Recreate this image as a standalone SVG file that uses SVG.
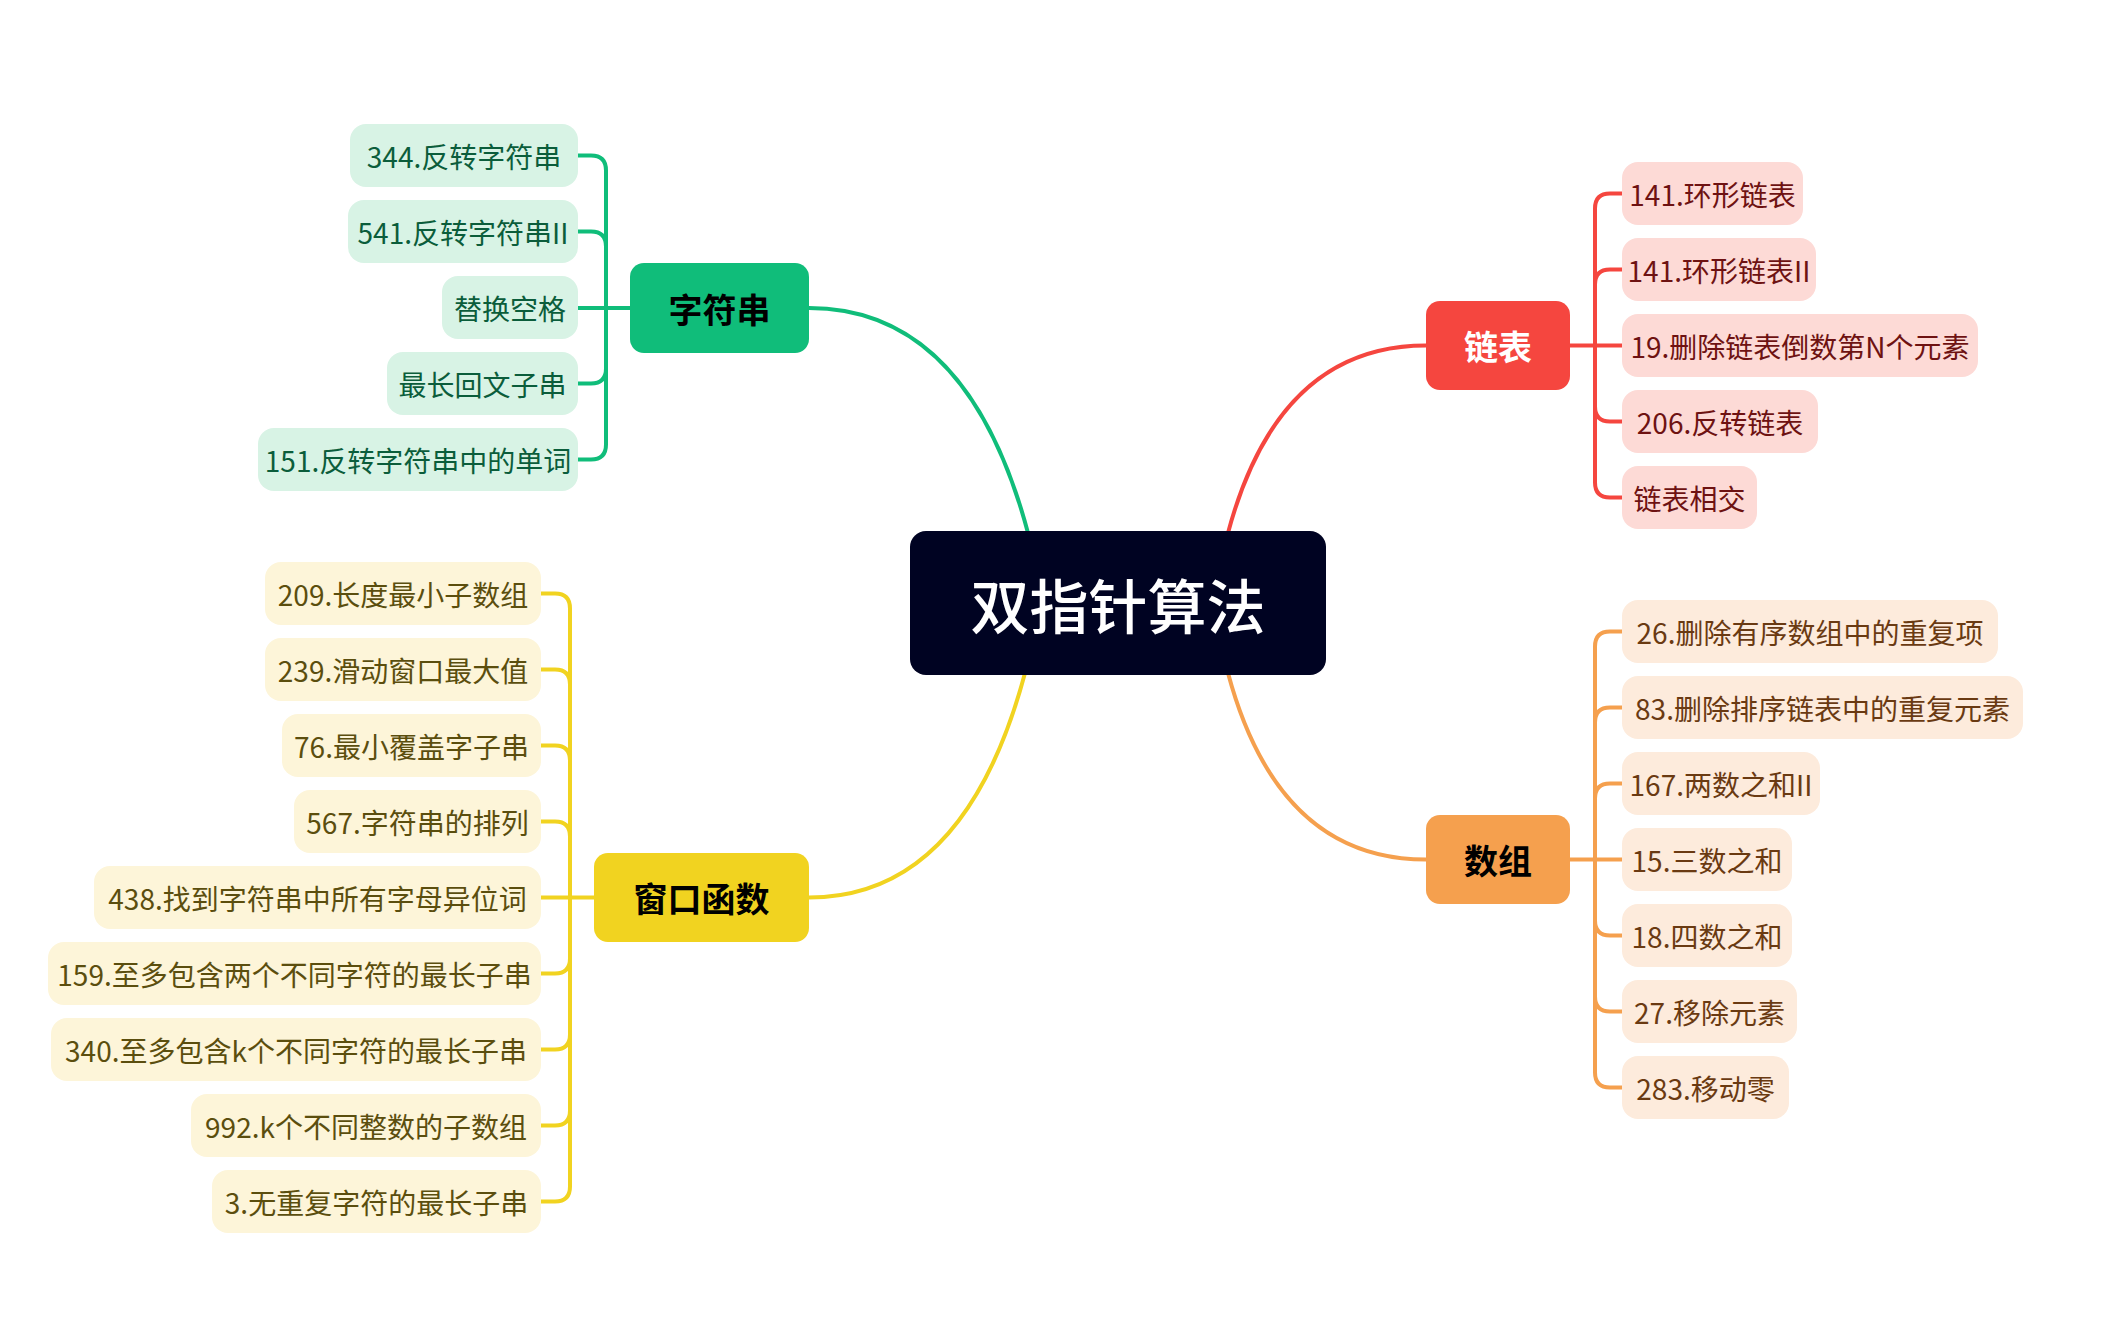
<svg xmlns="http://www.w3.org/2000/svg" width="2108" height="1318" viewBox="0 0 2108 1318">
<style>
text{font-family:"Noto Sans CJK SC","Noto Sans",sans-serif;dominant-baseline:central;text-anchor:middle}
.leaf{font-size:28px}
.main{font-size:34px;font-weight:bold}
.conn path{fill:none;stroke-width:4;stroke-linecap:round}
.g{stroke:#10bd7a}.r{stroke:#f5463f}.o{stroke:#f5a04e}.y{stroke:#f1d320}
.gb{fill:#d8f3e5}.rb{fill:#fddad6}.ob{fill:#fdebdc}.yb{fill:#fdf5d9}
.gt{fill:#0b5d3b}.rt{fill:#6e1212}.ot{fill:#6a3a12}.yt{fill:#5b4e0e}
</style>
<rect width="2108" height="1318" fill="#ffffff"/>
<g id="connectors" class="conn">
<path class="g" d="M809,308 Q968,308 1028,533"/>
<path class="r" d="M1228,533 Q1278,345.5 1426,345.5"/>
<path class="y" d="M1025,673 Q965,897.5 809,897.5"/>
<path class="o" d="M1228,673 Q1278,859.5 1426,859.5"/>
<path class="g" d="M578,155.5 H591 Q606,155.5 606,170.5 V308"/>
<path class="g" d="M578,231.5 H591 Q606,231.5 606,246.5 V308"/>
<path class="g" d="M578,308 H632"/>
<path class="g" d="M578,383.5 H591 Q606,383.5 606,368.5 V308"/>
<path class="g" d="M578,459.5 H591 Q606,459.5 606,444.5 V308"/>
<path class="y" d="M541,593.5 H555 Q570,593.5 570,608.5 V897.5"/>
<path class="y" d="M541,669.5 H555 Q570,669.5 570,684.5 V897.5"/>
<path class="y" d="M541,745.5 H555 Q570,745.5 570,760.5 V897.5"/>
<path class="y" d="M541,821.5 H555 Q570,821.5 570,836.5 V897.5"/>
<path class="y" d="M541,897.5 H596"/>
<path class="y" d="M541,973.5 H555 Q570,973.5 570,958.5 V897.5"/>
<path class="y" d="M541,1049.5 H555 Q570,1049.5 570,1034.5 V897.5"/>
<path class="y" d="M541,1125.5 H555 Q570,1125.5 570,1110.5 V897.5"/>
<path class="y" d="M541,1201.5 H555 Q570,1201.5 570,1186.5 V897.5"/>
<path class="r" d="M1622,193.5 H1610 Q1595,193.5 1595,208.5 V345.5"/>
<path class="r" d="M1622,269.5 H1610 Q1595,269.5 1595,284.5 V345.5"/>
<path class="r" d="M1568,345.5 H1622"/>
<path class="r" d="M1622,421.5 H1610 Q1595,421.5 1595,406.5 V345.5"/>
<path class="r" d="M1622,497.5 H1610 Q1595,497.5 1595,482.5 V345.5"/>
<path class="o" d="M1622,631.5 H1610 Q1595,631.5 1595,646.5 V859.5"/>
<path class="o" d="M1622,707.5 H1610 Q1595,707.5 1595,722.5 V859.5"/>
<path class="o" d="M1622,783.5 H1610 Q1595,783.5 1595,798.5 V859.5"/>
<path class="o" d="M1568,859.5 H1622"/>
<path class="o" d="M1622,935.5 H1610 Q1595,935.5 1595,920.5 V859.5"/>
<path class="o" d="M1622,1011.5 H1610 Q1595,1011.5 1595,996.5 V859.5"/>
<path class="o" d="M1622,1087.5 H1610 Q1595,1087.5 1595,1072.5 V859.5"/>
</g>
<g id="root"><rect x="910" y="531" width="416" height="144" rx="16" fill="#000322"/><text x="1118" y="603" font-size="59" font-weight="500" fill="#ffffff">双指针算法</text></g>
<g id="n-string"><rect x="630" y="263" width="179" height="90" rx="14" fill="#10bd7a"/><text class="main" x="719.5" y="308" fill="#000000">字符串</text></g>
<g id="n-window"><rect x="594" y="853" width="215" height="89" rx="14" fill="#f1d320"/><text class="main" x="701.5" y="897.5" fill="#000000">窗口函数</text></g>
<g id="n-list"><rect x="1426" y="301" width="144" height="89" rx="14" fill="#f5463f"/><text class="main" x="1498" y="345.5" fill="#ffffff" font-weight="500">链表</text></g>
<g id="n-array"><rect x="1426" y="815" width="144" height="89" rx="14" fill="#f5a04e"/><text class="main" x="1498" y="859.5" fill="#000000">数组</text></g>
<g id="g1"><rect class="gb" x="350" y="124" width="228" height="63" rx="16"/><text class="leaf gt" x="464" y="155.5">344.反转字符串</text></g>
<g id="g2"><rect class="gb" x="348" y="200" width="230" height="63" rx="16"/><text class="leaf gt" x="463" y="231.5">541.反转字符串II</text></g>
<g id="g3"><rect class="gb" x="442" y="276" width="136" height="63" rx="16"/><text class="leaf gt" x="510" y="307.5">替换空格</text></g>
<g id="g4"><rect class="gb" x="387" y="352" width="191" height="63" rx="16"/><text class="leaf gt" x="482.5" y="383.5">最长回文子串</text></g>
<g id="g5"><rect class="gb" x="258" y="428" width="320" height="63" rx="16"/><text class="leaf gt" x="418" y="459.5">151.反转字符串中的单词</text></g>
<g id="r1"><rect class="rb" x="1622" y="162" width="181" height="63" rx="16"/><text class="leaf rt" x="1712.5" y="193.5">141.环形链表</text></g>
<g id="r2"><rect class="rb" x="1622" y="238" width="194" height="63" rx="16"/><text class="leaf rt" x="1719" y="269.5">141.环形链表II</text></g>
<g id="r3"><rect class="rb" x="1622" y="314" width="356" height="63" rx="16"/><text class="leaf rt" x="1800" y="345.5">19.删除链表倒数第N个元素</text></g>
<g id="r4"><rect class="rb" x="1622" y="390" width="196" height="63" rx="16"/><text class="leaf rt" x="1720" y="421.5">206.反转链表</text></g>
<g id="r5"><rect class="rb" x="1622" y="466" width="135" height="63" rx="16"/><text class="leaf rt" x="1689.5" y="497.5">链表相交</text></g>
<g id="o1"><rect class="ob" x="1622" y="600" width="376" height="63" rx="16"/><text class="leaf ot" x="1810" y="631.5">26.删除有序数组中的重复项</text></g>
<g id="o2"><rect class="ob" x="1622" y="676" width="401" height="63" rx="16"/><text class="leaf ot" x="1822.5" y="707.5">83.删除排序链表中的重复元素</text></g>
<g id="o3"><rect class="ob" x="1622" y="752" width="198" height="63" rx="16"/><text class="leaf ot" x="1721" y="783.5">167.两数之和II</text></g>
<g id="o4"><rect class="ob" x="1622" y="828" width="170" height="63" rx="16"/><text class="leaf ot" x="1707" y="859.5">15.三数之和</text></g>
<g id="o5"><rect class="ob" x="1622" y="904" width="170" height="63" rx="16"/><text class="leaf ot" x="1707" y="935.5">18.四数之和</text></g>
<g id="o6"><rect class="ob" x="1622" y="980" width="175" height="63" rx="16"/><text class="leaf ot" x="1709.5" y="1011.5">27.移除元素</text></g>
<g id="o7"><rect class="ob" x="1622" y="1056" width="167" height="63" rx="16"/><text class="leaf ot" x="1705.5" y="1087.5">283.移动零</text></g>
<g id="y1"><rect class="yb" x="265" y="562" width="276" height="63" rx="16"/><text class="leaf yt" x="403" y="593.5">209.长度最小子数组</text></g>
<g id="y2"><rect class="yb" x="265" y="638" width="276" height="63" rx="16"/><text class="leaf yt" x="403" y="669.5">239.滑动窗口最大值</text></g>
<g id="y3"><rect class="yb" x="282" y="714" width="259" height="63" rx="16"/><text class="leaf yt" x="411.5" y="745.5">76.最小覆盖字子串</text></g>
<g id="y4"><rect class="yb" x="294" y="790" width="247" height="63" rx="16"/><text class="leaf yt" x="417.5" y="821.5">567.字符串的排列</text></g>
<g id="y5"><rect class="yb" x="94" y="866" width="447" height="63" rx="16"/><text class="leaf yt" x="317.5" y="897.5">438.找到字符串中所有字母异位词</text></g>
<g id="y6"><rect class="yb" x="48" y="942" width="493" height="63" rx="16"/><text class="leaf yt" x="294.5" y="973.5">159.至多包含两个不同字符的最长子串</text></g>
<g id="y7"><rect class="yb" x="51" y="1018" width="490" height="63" rx="16"/><text class="leaf yt" x="296" y="1049.5">340.至多包含k个不同字符的最长子串</text></g>
<g id="y8"><rect class="yb" x="191" y="1094" width="350" height="63" rx="16"/><text class="leaf yt" x="366" y="1125.5">992.k个不同整数的子数组</text></g>
<g id="y9"><rect class="yb" x="212" y="1170" width="329" height="63" rx="16"/><text class="leaf yt" x="376.5" y="1201.5">3.无重复字符的最长子串</text></g>
</svg>
